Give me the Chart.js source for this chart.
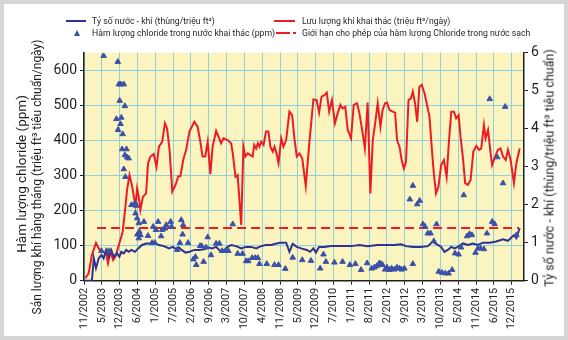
<!DOCTYPE html>
<html>
<head>
<meta charset="utf-8">
<script src="https://cdn.jsdelivr.net/npm/chart.js@4.4.1/dist/chart.umd.min.js"></script>
<style>
  html, body { margin: 0; padding: 0; }
  body { width: 568px; height: 340px; background: #d5d5d5; position: relative; overflow: hidden;
         font-family: Roboto, "Open Sans", sans-serif; color: #231f20; }
  #sheet { position: absolute; left: 4px; top: 4px; width: 560px; height: 332px; background: #fff; }
  canvas { position: absolute; left: 0; top: 0; }
  .lg { position: absolute; font-size: 8.7px; line-height: 10px; white-space: nowrap; }
  .sw { position: absolute; height: 2px; }
  .vt { position: absolute; white-space: nowrap; transform: translate(-50%, -50%) rotate(-90deg); }
</style>
</head>
<body>
<div id="sheet"></div>
<canvas id="c" width="568" height="340"></canvas>

<div class="sw" style="left:66px;top:19.6px;width:20px;background:#2e3192"></div>
<div class="lg" style="left:92px;top:15.6px">Tỷ số nước - khí (thùng/triệu ft³)</div>
<div style="position:absolute;left:73.5px;top:29.5px;width:0;height:0;border-left:3.5px solid transparent;border-right:3.5px solid transparent;border-bottom:6px solid #3a4fa6"></div>
<div class="lg" style="left:92px;top:27.6px">Hàm lượng chloride trong nước khai thác (ppm)</div>
<div class="sw" style="left:274px;top:19.6px;width:21px;background:#ed1c24"></div>
<div class="lg" style="left:302px;top:15.6px">Lưu lượng khí khai thác (triệu ft³/ngày)</div>
<div class="sw" style="left:276px;top:31.6px;width:14px;background:#ed1c24"></div>
<div class="sw" style="left:293px;top:31.6px;width:3px;background:#ed1c24"></div>
<div class="lg" style="left:302px;top:27.6px">Giới hạn cho phép của hàm lượng Chloride trong nước sạch</div>

<div class="vt" style="left:21px;top:174px;font-size:13.5px">Hàm lượng chloride (ppm)</div>
<div class="vt" style="left:37px;top:177px;font-size:12px">Sản lượng khí hàng tháng (triệu ft³ tiêu chuẩn/ngày)</div>
<div class="vt" style="left:549px;top:168px;font-size:12.5px">Tỷ số nước - khí (thùng/triệu ft³ tiêu chuẩn)</div>

<script>
const tickLabels = ['11/2002', '5/2003', '12/2003', '6/2004', '1/2005', '7/2005', '2/2006', '9/2006',
  '3/2007', '10/2007', '4/2008', '11/2008', '5/2009', '12/2009', '7/2010', '1/2011', '8/2011',
  '2/2012', '9/2012', '3/2013', '10/2013', '5/2014', '11/2014', '6/2015', '12/2015'];
// months after 11/2002 spanned by the labels (24 even steps)
const labelSpanMonths = 157;

// gas production, million ft3/day (left axis)
const gasMonths = [0.5, 1.7, 2.9, 4.4, 5.6, 6.9, 8.1, 8.8, 9.7, 10.7, 11.5, 12.8, 14.2, 15.2, 15.8, 16.7,
  17.7, 18.3, 18.9, 19.5, 20.1, 20.7, 21.6, 22.8, 23.5, 24.4, 25.6, 26.6, 27.5, 28.7, 29.7, 30.5, 31.4,
  32.4, 33.6, 34.6, 35.4, 36.4, 37.5, 38.7, 40.5, 41.7, 42.6, 43.5, 44.5, 45.4, 46.4, 47.2, 48.5, 49.4,
  50.3, 51.2, 52.7, 54.0, 54.6, 55.6, 56.4, 57.7, 58.5, 59.2, 60.1, 61.1, 61.9, 62.5, 63.2, 63.8, 64.4,
  65.0, 65.9, 66.8, 67.7, 68.4, 69.3, 69.9, 70.5, 71.4, 72.4, 73.2, 74.2, 75.4, 76.4, 77.3, 78.1, 79.1,
  80.1, 81.4, 82.7, 84.2, 85.4, 86.3, 87.2, 88.2, 89.1, 90.0, 91.0, 92.1, 93.1, 94.1, 94.9, 95.9, 96.8,
  98.0, 99.0, 100.2, 101.1, 102.0, 103.1, 104.1, 105.1, 106.0, 106.8, 107.8, 108.8, 109.6, 110.5, 111.2,
  112.1, 113.3, 114.2, 114.9, 115.8, 116.6, 117.4, 118.2, 119.1, 120.0, 120.7, 121.5, 122.3, 123.1, 124.0,
  125.0, 125.9, 126.8, 127.7, 128.4, 129.2, 130.1, 131.1, 132.1, 133.1, 133.9, 134.8, 135.8, 136.6, 137.5,
  138.2, 139.1, 139.9, 140.9, 141.9, 142.9, 144.0, 145.0, 145.8, 146.8, 147.4, 148.3, 149.1, 149.8, 150.9,
  151.9, 152.9, 153.8, 154.8, 155.6, 156.6, 157.8, 158.7, 159.9];
const gasRate = [7, 21, 73, 108, 89, 83, 78, 50, 83, 59, 68, 102, 140, 211, 259, 301,
  268, 239, 216, 263, 239, 202, 239, 249, 335, 354, 361, 325, 382, 396, 449, 434, 373,
  254, 273, 298, 298, 344, 373, 425, 453, 439, 401, 354, 354, 396, 304, 382, 427, 410,
  392, 406, 401, 392, 363, 296, 301, 159, 382, 354, 363, 358, 354, 387, 377, 392, 382,
  396, 387, 425, 425, 382, 368, 382, 368, 335, 406, 382, 401, 482, 472, 401, 354, 363,
  349, 270, 392, 517, 515, 479, 525, 529, 536, 482, 515, 449, 477, 501, 491, 496, 430,
  406, 501, 506, 477, 434, 377, 508, 249, 401, 444, 506, 439, 487, 506, 508,
  487, 482, 479, 401, 382, 344, 320, 339, 515, 520, 539, 506, 453, 553, 558,
  534, 501, 468, 373, 306, 249, 268, 330, 344, 296, 392, 482, 482, 463, 472,
  410, 349, 278, 273, 287, 368, 384, 373, 377, 444, 406, 430, 373, 330, 354,
  373, 377, 354, 344, 373, 344, 278, 335, 377];

// water-gas ratio, bbl/million ft3 (right axis)
const ratioMonths = [0, 2.9, 3.6, 4.4, 5.4, 6.4, 7.2, 8.1, 9.1, 10.0, 10.9, 12.1, 13.0, 13.7, 14.6, 15.5,
  16.4, 17.4, 18.7, 19.9, 21.3, 22.8, 24.4, 25.6, 27.5, 29.3, 31.2, 32.6, 33.8, 34.8, 35.8, 37.3, 38.7,
  40.5, 42.3, 44.5, 45.4, 47.0, 48.5, 50.3, 51.5, 52.7, 54.0, 55.8, 57.7, 59.5, 61.3, 63.2, 65.0, 66.8,
  68.7, 70.3, 72.0, 74.2, 75.4, 76.6, 78.1, 79.7, 81.8, 83.0, 84.2, 85.1, 86.3, 88.2, 90.6, 94.3, 98.0,
  101.1, 104.1, 107.8, 110.8, 113.9, 116.4, 118.2, 120.7, 123.7, 126.2, 128.0, 129.9, 131.1, 132.3, 133.5,
  134.8, 136.0, 137.2, 139.1, 140.9, 142.7, 144.6, 146.4, 148.9, 151.3, 153.8, 155.6, 157.8, 158.7, 159.9];
const waterGasRatio = [0, 0, 0.59, 0.33, 0.59, 0.68, 0.59, 0.81, 0.63, 0.81, 0.63, 0.72, 0.63, 0.76, 0.72, 0.81,
  0.76, 0.81, 0.76, 0.85, 0.94, 0.98, 0.98, 1.0, 0.94, 0.91, 0.85, 0.89, 0.83, 0.88, 0.81, 0.74, 0.76,
  0.81, 0.81, 0.83, 0.88, 0.85, 0.89, 0.76, 0.81, 0.89, 0.94, 0.91, 0.85, 0.89, 0.89, 0.85, 0.91, 0.94,
  0.94, 0.97, 1.0, 1.0, 0.76, 0.97, 0.89, 0.85, 0.81, 0.76, 0.85, 0.74, 0.89, 0.89, 0.91, 0.91, 0.91,
  0.94, 0.91, 0.94, 0.94, 0.94, 0.96, 0.91, 0.89, 0.89, 0.91, 1.03, 0.94, 0.89, 0.76, 0.81,
  0.89, 0.85, 0.89, 0.98, 0.94, 0.98, 0.94, 1.0, 1.0, 1.03, 1.09, 1.05, 1.20, 1.12, 1.38];

// chloride in produced water, ppm (left axis)
const chlorideMonths = [6.4, 9.0, 7.2, 12.4, 12.8, 13.5, 14.6, 13.1, 15.0, 11.9, 13.7, 13.4, 12.5, 14.2, 14.0,
  15.6, 15.0, 15.8, 16.4, 14.6, 15.2, 17.4, 18.3, 18.9, 19.2, 18.9, 19.5, 22.0, 20.1, 20.3, 20.7, 20.1,
  19.6, 23.5, 25.4, 26.4, 27.2, 28.7, 29.7, 30.2, 31.8, 32.1, 28.3, 35.7, 36.4, 36.2, 35.2, 38.2, 34.2,
  25.0, 26.0, 40.1, 41.2, 40.9, 42.6, 43.2, 43.9, 45.4, 44.8, 46.6, 48.5, 49.7, 50.7, 52.1, 53.0, 54.6,
  56.4, 58.2, 59.5, 60.3, 61.7, 62.8, 63.8, 64.4, 67.1, 69.9, 71.4, 73.9, 76.6, 80.1, 83.3, 86.7, 87.9,
  88.8, 91.9, 94.9, 97.6, 99.6, 101.7, 103.9, 105.6, 106.6, 107.5, 108.4, 109.0, 109.6, 110.5, 111.2,
  112.1, 112.9, 113.9, 114.9, 115.8, 116.6, 117.6, 119.6, 120.7, 122.3, 123.2, 124.4, 125.2, 126.2,
  127.2, 128.4, 129.4, 120.7, 130.2, 131.4, 132.6, 133.8, 135.1, 136.2, 137.5, 139.4, 138.4, 140.6,
  141.5, 142.4, 143.7, 144.6, 145.6, 146.8, 147.9, 148.9, 149.8, 150.7, 151.7, 153.8, 154.6, 158.7];
const chloride = [85, 85, 641, 624, 560, 560, 560, 513, 498, 461, 465, 447, 430, 418, 375,
  375, 358, 352, 349, 318, 296, 216, 217, 219, 214, 192, 178, 168, 164, 140, 130, 121,
  132, 128, 154, 145, 168, 145, 149, 159, 168, 154, 127, 173, 159, 132, 108, 108, 88,
  108, 108, 61, 45, 68, 99, 99, 54, 124, 95, 73, 106, 106, 85, 85, 85, 161,
  77, 77, 56, 56, 65, 65, 65, 48, 48, 45, 45, 34, 66, 59, 57, 35, 75,
  54, 52, 54, 45, 48, 31, 50, 35, 38, 42, 50, 48, 45, 32, 38,
  31, 35, 32, 38, 35, 32, 35, 232, 271, 218, 228, 161, 154, 135,
  135, 113, 161, 48, 26, 23, 21, 21, 31, 78, 75, 244, 95, 127,
  133, 130, 80, 92, 92, 90, 135, 518, 168, 162, 352, 278, 496, 130];

// permitted chloride limit for fresh water, ppm
const limitMonths = [4.8, 159.7];
const limitPpm = [150, 150];

const pts = (xs, ys) => xs.map((x, i) => ({ x, y: ys[i] }));
const tickStep = labelSpanMonths / (tickLabels.length - 1);
const ink = '#231f20';
const gridBlue = '#8fd0e0';

const plotBg = {
  id: 'plotBg',
  beforeDraw(chart) {
    const { ctx, chartArea: a } = chart;
    ctx.save();
    ctx.fillStyle = '#fbf4bf';
    ctx.fillRect(a.left, a.top, a.right - a.left, a.bottom - a.top);
    ctx.restore();
  }
};

new Chart(document.getElementById('c'), {
  type: 'line',
  data: {
    datasets: [
      { label: 'Hàm lượng chloride trong nước khai thác (ppm)', data: pts(chlorideMonths, chloride), yAxisID: 'y',
        showLine: false, pointStyle: 'triangle', pointRadius: 3.2, backgroundColor: '#3b51a8',
        borderColor: '#3b51a8', borderWidth: 1 },
      { label: 'Tỷ số nước - khí (thùng/triệu ft³)', data: pts(ratioMonths, waterGasRatio), yAxisID: 'y1',
        borderColor: '#2e3192', borderWidth: 2, pointRadius: 0 },
      { label: 'Giới hạn cho phép của hàm lượng Chloride trong nước sạch', data: pts(limitMonths, limitPpm), yAxisID: 'y',
        borderColor: '#ed1c24', borderWidth: 2, borderDash: [9, 5], pointRadius: 0 },
      { label: 'Lưu lượng khí khai thác (triệu ft³/ngày)', data: pts(gasMonths, gasRate), yAxisID: 'y',
        borderColor: '#ed1c24', borderWidth: 2, pointRadius: 0 }
    ]
  },
  options: {
    responsive: false,
    animation: false,
    devicePixelRatio: 1,
    layout: { padding: { top: 52.7, left: 0, right: 0, bottom: 0 } },
    plugins: { legend: { display: false }, tooltip: { enabled: false } },
    scales: {
      x: {
        type: 'linear', min: 0, max: 161.5,
        afterBuildTicks: s => { s.ticks = tickLabels.map((_, i) => ({ value: i * tickStep })); },
        afterFit: s => { s.height = 59.3; },
        ticks: { autoSkip: false, minRotation: 90, maxRotation: 90, padding: 3, color: ink,
                 font: { family: 'Roboto', size: 11 }, callback: (v, i) => tickLabels[i] },
        grid: { color: gridBlue, lineWidth: 1, tickColor: ink, tickLength: 4 },
        border: { color: ink, width: 1.5 }
      },
      y: {
        position: 'left', min: 0, max: 650,
        afterFit: s => { s.width = 84; },
        ticks: { stepSize: 50, padding: 3, color: ink, font: { family: 'Roboto', size: 14 } },
        grid: { color: gridBlue, lineWidth: 1, tickColor: ink, tickLength: 4 },
        border: { color: ink, width: 1.5 }
      },
      y1: {
        position: 'right', min: 0, max: 6,
        afterFit: s => { s.width = 44; },
        ticks: { stepSize: 1, padding: 3, color: ink, font: { family: 'Roboto', size: 14 } },
        grid: { drawOnChartArea: false, tickColor: ink, tickLength: 4 },
        border: { color: ink, width: 1.5 }
      }
    }
  },
  plugins: [plotBg]
});
</script>
</body>
</html>
